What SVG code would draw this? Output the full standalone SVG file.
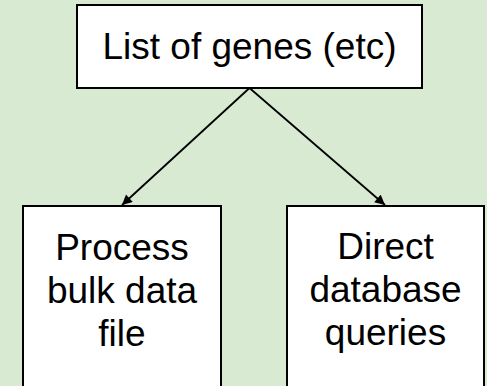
<svg xmlns="http://www.w3.org/2000/svg" width="487" height="386" viewBox="0 0 487 386">
  <style>
    .box { fill: #ffffff; stroke: #000000; stroke-width: 2; }
    .label { font-family: "Liberation Sans", Arial, sans-serif; font-size: 37px; fill: #000000; text-anchor: middle; }
    .edge { stroke: #000000; stroke-width: 1.8; fill: none; marker-end: url(#arrow); }
  </style>
  <defs>
    <marker id="arrow" viewBox="0 0 10 10" refX="10" refY="5" markerWidth="12" markerHeight="10" markerUnits="userSpaceOnUse" orient="auto">
      <path d="M0,0 L10,5 L0,10 z" fill="#000000"/>
    </marker>
  </defs>
  <rect x="0" y="0" width="487" height="386" fill="#d9ead3"/>

  <g id="connectors">
    <line class="edge" x1="249.5" y1="88" x2="122" y2="205"/>
    <line class="edge" x1="249.5" y1="88" x2="385" y2="205"/>
  </g>

  <g id="genes">
    <rect class="box" x="77" y="5" width="345" height="83"/>
    <text class="label" x="249.5" y="59">List of genes (etc)</text>
  </g>

  <g id="bulk">
    <rect class="box" x="23" y="206" width="198" height="190"/>
    <text class="label" x="122" y="260">Process</text>
    <text class="label" x="122" y="303">bulk data</text>
    <text class="label" x="122" y="346">file</text>
  </g>

  <g id="direct">
    <rect class="box" x="287" y="206" width="197" height="190"/>
    <text class="label" x="385.5" y="259">Direct</text>
    <text class="label" x="385.5" y="302">database</text>
    <text class="label" x="385.5" y="345">queries</text>
  </g>
</svg>
